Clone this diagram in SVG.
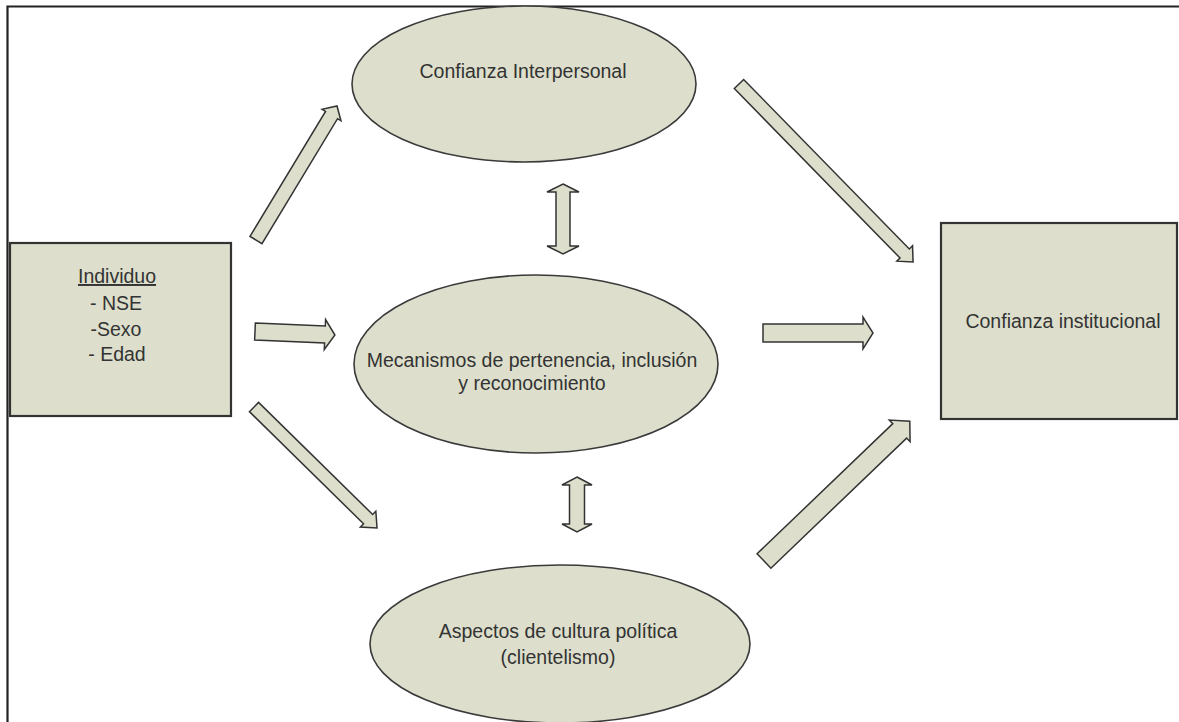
<svg xmlns="http://www.w3.org/2000/svg" width="1179" height="722" viewBox="0 0 1179 722">
<style>
.shape{fill:#dddfcc;stroke:#3a3a3a;stroke-width:1.6}
.box{fill:#dddfcc;stroke:#333;stroke-width:2.2}
.arr{fill:#dddfcc;stroke:#333;stroke-width:1.5;stroke-linejoin:miter}
.t{font-family:"Liberation Sans",Arial,sans-serif;font-size:19.5px;fill:#333;text-anchor:middle}
</style>
<rect width="1179" height="722" fill="#fff"/>
<path d="M1179,6.5 H7.5 V722" fill="none" stroke="#222" stroke-width="2.2"/>
<g id="individuo">
<rect class="box" x="10" y="243" width="221" height="173"/>
<text class="t" x="117" y="283" text-decoration="underline">Individuo</text>
<text class="t" x="116" y="310">- NSE</text>
<text class="t" x="116" y="336">-Sexo</text>
<text class="t" x="117" y="361">- Edad</text>
</g>
<g id="confianza-interpersonal">
<ellipse class="shape" cx="524" cy="84" rx="172" ry="78"/>
<text class="t" x="523" y="78">Confianza Interpersonal</text>
</g>
<g id="mecanismos">
<ellipse class="shape" cx="536" cy="364" rx="182" ry="89"/>
<text class="t" x="532" y="367">Mecanismos de pertenencia, inclusión</text>
<text class="t" x="532" y="390">y reconocimiento</text>
</g>
<g id="cultura-politica">
<ellipse class="shape" cx="560" cy="644" rx="190" ry="79"/>
<text class="t" x="558" y="638">Aspectos de cultura política</text>
<text class="t" x="558" y="664">(clientelismo)</text>
</g>
<g id="confianza-institucional">
<rect class="box" x="941" y="223" width="236" height="196"/>
<text class="t" x="1063" y="328">Confianza institucional</text>
</g>
<g id="connectors">
<path class="arr" transform="translate(256,240) rotate(-58.85)" d="M0,-7 L146,-7 L146,-11 L156.6,0 L146,11 L146,7 L0,7 Z"/>
<path class="arr" transform="translate(739,84) rotate(45.65)" d="M0,-6.5 L237,-6.5 L237,-11 L249,0 L237,11 L237,6.5 L0,6.5 Z"/>
<path class="arr" transform="translate(255,331.5) rotate(2.5)" d="M0,-8.5 L70,-8.5 L70,-15 L80,0 L70,15 L70,8.5 L0,8.5 Z"/>
<path class="arr" d="M763,324 L863,324 L863,317 L873,333 L863,349 L863,342 L763,342 Z"/>
<path class="arr" transform="translate(254,407) rotate(44.5)" d="M0,-6.5 L160,-6.5 L160,-11 L172.5,0 L160,11 L160,6.5 L0,6.5 Z"/>
<path class="arr" transform="translate(764,561) rotate(-43.8)" d="M0,-10 L188,-10 L188,-15 L202,0 L188,15 L188,10 L0,10 Z"/>
<path class="arr" d="M563,184 L579,192 L570,192 L570,246 L579,246 L563,254 L547,246 L556,246 L556,192 L547,192 Z"/>
<path class="arr" d="M577,477 L592,485 L584.5,485 L584.5,524 L592,524 L577,532 L562,524 L569.5,524 L569.5,485 L562,485 Z"/>
</g>
</svg>
